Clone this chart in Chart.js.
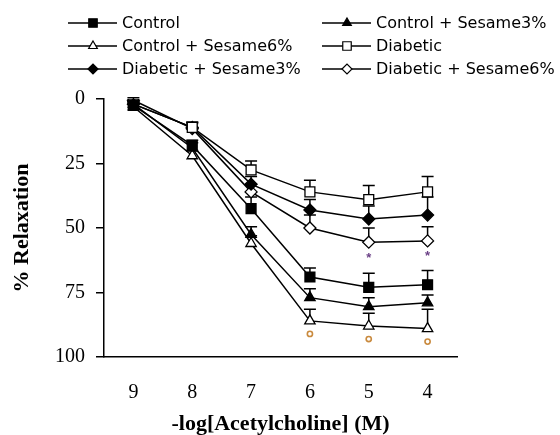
<!DOCTYPE html>
<html lang="en">
<head>
  <meta charset="UTF-8" />
  <title>Relaxation to acetylcholine</title>
  <style>
    html, body { margin: 0; padding: 0; background: #fff; }
    #wrap { width: 560px; height: 435px; }
  </style>
</head>
<body>
<div id="wrap">
  <canvas id="relaxChart" width="560" height="435"></canvas>
</div>
<script src="https://cdn.jsdelivr.net/npm/chart.js"></script>
<script type="text/javascript">
  // -log[ACh] concentrations
  const doses = ['9', '8', '7', '6', '5', '4'];

  // mean % relaxation per group
  const control      = [2.5, 18, 42.5, 69, 73, 72];
  const controlSes3  = [2, 19, 52.5, 77, 80.5, 79];
  const controlSes6  = [3, 22, 56, 86, 88, 89];
  const diabetic     = [2, 11, 27.5, 36, 39, 36];
  const diabeticSes3 = [2, 11, 33, 43, 46.5, 45];
  const diabeticSes6 = [0.5, 11.5, 36, 50, 55.5, 55];

  // SEM (drawn upward only)
  const controlErr      = [1, 2, 4.5, 3.5, 5.5, 5.5];
  const controlSes3Err  = [1, 2, 3, 3.5, 3.5, 3];
  const controlSes6Err  = [1, 2, 3, 4.5, 5, 7.5];
  const diabeticErr     = [1, 2, 3.5, 4.5, 5.5, 6];
  const diabeticSes3Err = [1, 2, 3, 4, 5, 7];
  const diabeticSes6Err = [1, 2, 3, 5, 5.5, 5.5];

  // significance marks under a series
  const starMarks   = [null, null, null, null, '*', '*'];   // under Diabetic + Sesame6%
  const circleMarks = [null, null, null, 'o', 'o', 'o'];    // under Control + Sesame6%

  const yTicks = [0, 25, 50, 75, 100];

  function series(label, data, err, style, filled, radius) {
    return {
      label: label,
      data: data,
      err: err,
      borderColor: '#000',
      borderWidth: 1.5,
      pointStyle: style,
      pointRadius: radius,
      pointHoverRadius: radius,
      pointBorderWidth: 1.3,
      pointBorderColor: '#000',
      pointBackgroundColor: filled ? '#000' : '#fff',
      tension: 0,
      fill: false
    };
  }

  // error bars under the markers, significance marks on top
  const errorBars = {
    id: 'errorBars',
    beforeDatasetsDraw(chart) {
      const ctx = chart.ctx;
      const y = chart.scales.y;
      ctx.save();
      ctx.strokeStyle = '#000';
      ctx.lineWidth = 1.5;
      chart.data.datasets.forEach((ds, i) => {
        const meta = chart.getDatasetMeta(i);
        meta.data.forEach((pt, j) => {
          const top = y.getPixelForValue(ds.data[j] - ds.err[j]);
          ctx.beginPath();
          ctx.moveTo(pt.x, pt.y);
          ctx.lineTo(pt.x, top);
          ctx.moveTo(pt.x - 6, top);
          ctx.lineTo(pt.x + 6, top);
          ctx.stroke();
        });
      });
      ctx.restore();
    },
    afterDatasetsDraw(chart) {
      const ctx = chart.ctx;
      ctx.save();
      const starMeta = chart.getDatasetMeta(5);
      ctx.fillStyle = '#6a3f86';
      ctx.font = 'bold 13px "Liberation Sans"';
      ctx.textAlign = 'center';
      ctx.textBaseline = 'middle';
      starMarks.forEach((m, j) => {
        if (!m) return;
        const pt = starMeta.data[j];
        ctx.fillText(m, pt.x, pt.y + 16);
      });
      const circMeta = chart.getDatasetMeta(2);
      ctx.strokeStyle = '#c98a3e';
      ctx.lineWidth = 1.6;
      circleMarks.forEach((m, j) => {
        if (!m) return;
        const pt = circMeta.data[j];
        ctx.beginPath();
        ctx.arc(pt.x, pt.y + 13, 2.6, 0, Math.PI * 2);
        ctx.stroke();
      });
      ctx.restore();
    }
  };

  // two-column legend above the plot
  const boxLegend = {
    id: 'boxLegend',
    afterDraw(chart) {
      const ctx = chart.ctx;
      const colX = [68, 322];
      const rowY = [23, 46, 69];
      ctx.save();
      ctx.font = '16px "DejaVu Sans"';
      ctx.textBaseline = 'middle';
      ctx.textAlign = 'left';
      chart.data.datasets.forEach((ds, i) => {
        const x = colX[i % 2];
        const yy = rowY[Math.floor(i / 2)];
        ctx.strokeStyle = '#000';
        ctx.lineWidth = 1.5;
        ctx.beginPath();
        ctx.moveTo(x, yy);
        ctx.lineTo(x + 49, yy);
        ctx.stroke();
        ctx.fillStyle = ds.pointBackgroundColor;
        ctx.lineWidth = 1.2;
        Chart.helpers.drawPoint(ctx, {
          pointStyle: ds.pointStyle,
          radius: ds.pointRadius - 1,
          rotation: 0,
          borderWidth: 1.2
        }, x + 25, yy);
        ctx.fillStyle = '#000';
        ctx.fillText(ds.label, x + 54, yy + 1);
      });
      ctx.restore();
    }
  };

  new Chart(document.getElementById('relaxChart'), {
    type: 'line',
    data: {
      labels: doses,
      datasets: [
        series('Control', control, controlErr, 'rect', true, 7),
        series('Control + Sesame3%', controlSes3, controlSes3Err, 'triangle', true, 6),
        series('Control + Sesame6%', controlSes6, controlSes6Err, 'triangle', false, 6),
        series('Diabetic', diabetic, diabeticErr, 'rect', false, 7),
        series('Diabetic + Sesame3%', diabeticSes3, diabeticSes3Err, 'rectRot', true, 6),
        series('Diabetic + Sesame6%', diabeticSes6, diabeticSes6Err, 'rectRot', false, 6)
      ]
    },
    options: {
      responsive: false,
      animation: false,
      layout: { padding: { top: 99, right: 103, bottom: 0, left: 0 } },
      plugins: {
        legend: { display: false },
        tooltip: { enabled: false }
      },
      scales: {
        x: {
          type: 'category',
          offset: true,
          grid: { drawOnChartArea: false, drawTicks: false },
          border: { display: true, color: '#000', width: 1.5 },
          ticks: {
            color: '#000',
            padding: 24,
            font: { family: '"Liberation Serif"', size: 20 }
          },
          title: {
            display: true,
            text: '-log[Acetylcholine] (M)',
            color: '#000',
            padding: { top: 0, bottom: 0 },
            font: { family: '"Liberation Serif"', size: 22, weight: 'bold', lineHeight: 1 }
          },
          afterFit(scale) { scale.height = 78; }
        },
        y: {
          min: 0,
          max: 100,
          reverse: true,
          afterBuildTicks(scale) { scale.ticks = yTicks.map(v => ({ value: v })); },
          grid: { drawOnChartArea: false, drawTicks: true, tickLength: 8, color: '#000', lineWidth: 1.5 },
          border: { display: true, color: '#000', width: 1.5 },
          ticks: {
            color: '#000',
            padding: 11,
            font: { family: '"Liberation Serif"', size: 20 }
          },
          title: {
            display: true,
            text: '% Relaxation',
            color: '#000',
            padding: { top: 11, bottom: 0 },
            font: { family: '"Liberation Serif"', size: 22, weight: 'bold', lineHeight: 1 }
          },
          afterFit(scale) { scale.width = 104; }
        }
      }
    },
    plugins: [errorBars, boxLegend]
  });
</script>
</body>
</html>
